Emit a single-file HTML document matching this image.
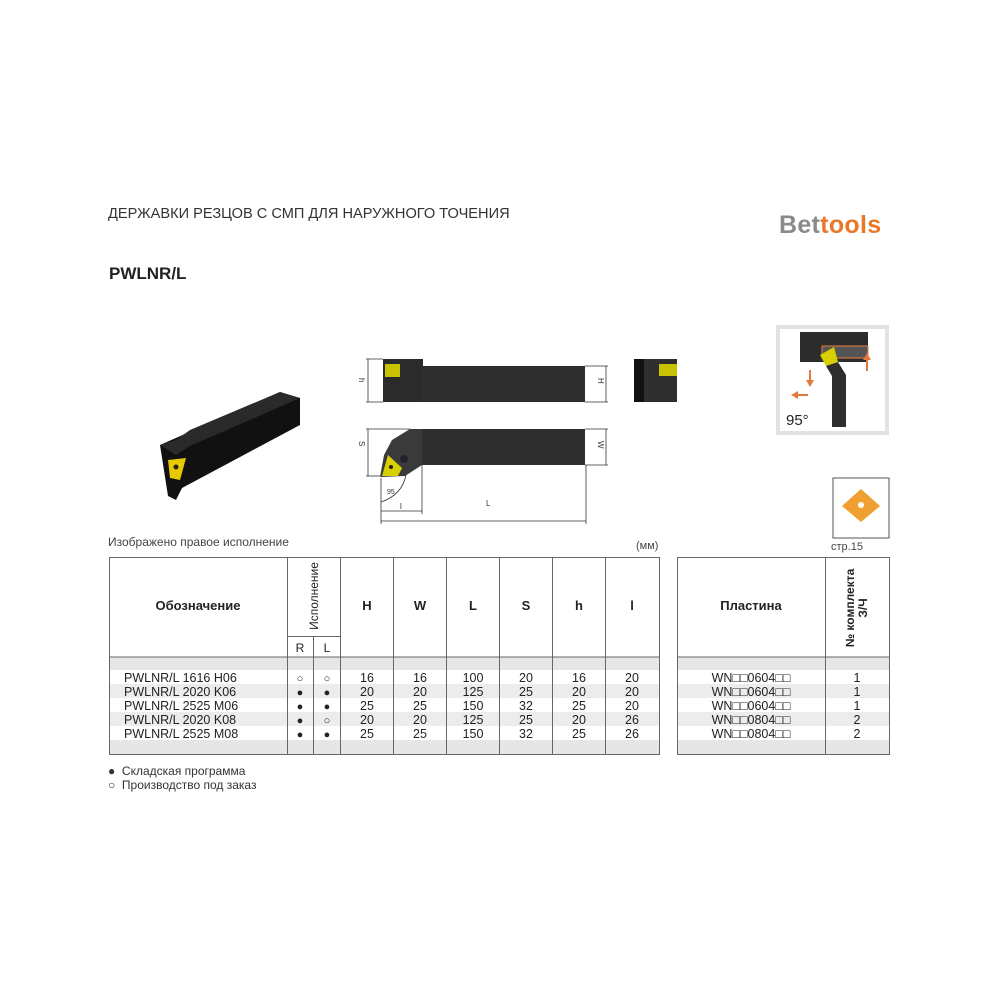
<!DOCTYPE html>
<html><head><meta charset="utf-8"><style>
body{margin:0;width:1000px;height:1000px;background:#fff;position:relative;overflow:hidden;font-family:"Liberation Sans","DejaVu Sans",sans-serif;color:#222}
.a{position:absolute;white-space:nowrap}
</style></head><body>
<div class="a" style="left:108px;top:206px;font-size:14.6px;color:#333">ДЕРЖАВКИ РЕЗЦОВ С СМП ДЛЯ НАРУЖНОГО ТОЧЕНИЯ</div>
<div class="a" style="left:779px;top:211px;font-size:25px;font-weight:bold;letter-spacing:0.3px"><span style="color:#8a8a8a">Bet</span><span style="color:#e8782a">tools</span></div>
<div class="a" style="left:109px;top:264px;font-size:17px;font-weight:bold;color:#222">PWLNR/L</div>
<div class="a" style="left:108px;top:535px;font-size:12px;color:#444">Изображено правое исполнение</div>
<div class="a" style="left:636px;top:540px;font-size:11px;color:#444">(мм)</div>
<div class="a" style="left:831px;top:541px;font-size:11px;color:#444">стр.15</div>
<div class="a" style="left:108px;top:764px;font-size:12px;color:#333">●&nbsp; Складская программа</div>
<div class="a" style="left:108px;top:778px;font-size:12px;color:#333">○&nbsp; Производство под заказ</div>

<svg class="a" style="left:0;top:0" width="1000" height="1000" xmlns="http://www.w3.org/2000/svg">
<!-- 3D tool -->
<polygon points="160,445 280,392 300,398 300,425 182,488 176,500 168,496" fill="#111"/>
<polygon points="160,445 176,440 190,430 280,392 300,398 190,446 176,455" fill="#2a2a2a"/>
<polygon points="168,460 186,458 180,480 170,478" fill="#e8c800"/>
<circle cx="176" cy="467" r="2.5" fill="#222"/>
<!-- top view -->
<g stroke="#333" stroke-width="0.8" fill="none">
<line x1="366" y1="359" x2="383" y2="359"/><line x1="366" y1="402" x2="383" y2="402"/><line x1="368" y1="359" x2="368" y2="402"/>
<line x1="585" y1="366" x2="608" y2="366"/><line x1="585" y1="402" x2="608" y2="402"/><line x1="606" y1="366" x2="606" y2="402"/>
<line x1="585" y1="429" x2="608" y2="429"/><line x1="585" y1="465" x2="608" y2="465"/><line x1="606" y1="429" x2="606" y2="465"/>
<line x1="366" y1="429" x2="410" y2="429"/><line x1="366" y1="476" x2="380" y2="476"/><line x1="368" y1="429" x2="368" y2="476"/>
<line x1="381" y1="478" x2="381" y2="524"/><line x1="422" y1="465" x2="422" y2="514"/><line x1="586" y1="465" x2="586" y2="524"/>
<line x1="381" y1="511" x2="422" y2="511"/><line x1="381" y1="521" x2="586" y2="521"/>
<path d="M381,502 Q402,495 406,475"/>
</g>
<g font-size="8" fill="#333" font-family="Liberation Sans,sans-serif">
<text x="359" y="384" transform="rotate(90 362 381)">h</text>
<text x="598" y="384" transform="rotate(90 601 381)">H</text>
<text x="598" y="447" transform="rotate(90 601 444)">W</text>
<text x="359" y="447" transform="rotate(90 362 444)">S</text>
<text x="400" y="509">l</text><text x="486" y="506">L</text>
<text x="387" y="494" font-size="7">95</text>
</g>
<rect x="383" y="359" width="40" height="43" fill="#2b2b2b"/>
<rect x="422" y="366" width="163" height="36" fill="#2e2e2e"/>
<rect x="385" y="364" width="15" height="13" fill="#c9c200"/>
<rect x="634" y="359" width="43" height="43" fill="#2e2e2e"/><rect x="634" y="359" width="10" height="43" fill="#111"/>
<rect x="659" y="364" width="18" height="12" fill="#c9c200"/>
<!-- bottom view -->
<rect x="422" y="429" width="163" height="36" fill="#2e2e2e"/>
<polygon points="410,429 422,429 422,465 405,476 380,477 384,455 392,440" fill="#3a3a3a"/>
<polygon points="382,476 388,455 402,468 398,476" fill="#d8cf00"/>
<circle cx="391" cy="467" r="2" fill="#222"/>
<circle cx="404" cy="459" r="4" fill="#223"/>
<!-- inset -->
<rect x="776" y="325" width="113" height="110" fill="#e2e2e2"/>
<rect x="780" y="329" width="105" height="102" fill="#fff"/>
<rect x="800" y="332" width="68" height="30" fill="#2c2c2c"/>
<rect x="822" y="346" width="46" height="12" fill="#555" stroke="#e8803a" stroke-width="1"/>
<polygon points="820,355 834,347 838,362 826,366" fill="#d8cf00"/>
<polygon points="826,366 838,362 846,375 846,427 832,427 832,376" fill="#2e2e2e"/>
<g fill="#e07840"><rect x="866" y="357" width="2" height="14"/><polygon points="863,360 871,360 867,353"/>
<rect x="809" y="370" width="2" height="12"/><polygon points="806,380 814,380 810,387"/>
<rect x="796" y="394" width="12" height="2"/><polygon points="798,391 798,399 791,395"/></g>
<text x="786" y="425" font-size="15" fill="#222" font-family="Liberation Sans,sans-serif">95°</text>
<!-- insert -->
<rect x="833" y="478" width="56" height="60" fill="#fff" stroke="#555" stroke-width="1"/>
<polygon points="861,489 880,506 861,522 842,506" fill="#f0a030"/>
<circle cx="861" cy="505" r="3" fill="#fff"/>
<!-- tables -->
<rect x="109" y="657" width="550" height="13" fill="#e6e6e6"/>
<rect x="109" y="684" width="550" height="14" fill="#ececec"/>
<rect x="109" y="712" width="550" height="14" fill="#ececec"/>
<rect x="109" y="740" width="550" height="14" fill="#e6e6e6"/>
<rect x="677" y="657" width="212" height="13" fill="#e6e6e6"/>
<rect x="677" y="684" width="212" height="14" fill="#ececec"/>
<rect x="677" y="712" width="212" height="14" fill="#ececec"/>
<rect x="677" y="740" width="212" height="14" fill="#e6e6e6"/>
<g stroke="#666" stroke-width="1" fill="none">
<rect x="109.5" y="557.5" width="550" height="197"/>
<line x1="109" y1="657" x2="659" y2="657"/>
<line x1="287.5" y1="557" x2="287.5" y2="755"/><line x1="313.5" y1="636" x2="313.5" y2="755"/>
<line x1="287" y1="636.5" x2="340" y2="636.5"/>
<line x1="340.5" y1="557" x2="340.5" y2="755"/><line x1="393.5" y1="557" x2="393.5" y2="755"/>
<line x1="446.5" y1="557" x2="446.5" y2="755"/><line x1="499.5" y1="557" x2="499.5" y2="755"/>
<line x1="552.5" y1="557" x2="552.5" y2="755"/><line x1="605.5" y1="557" x2="605.5" y2="755"/>
<rect x="677.5" y="557.5" width="212" height="197"/>
<line x1="677" y1="657" x2="889" y2="657"/><line x1="825.5" y1="557" x2="825.5" y2="755"/>
</g>
<g font-family="Liberation Sans,sans-serif" fill="#222">
<g font-size="13" font-weight="bold" text-anchor="middle">
<text x="198" y="610">Обозначение</text>
<text x="367" y="610">H</text><text x="420" y="610">W</text><text x="473" y="610">L</text>
<text x="526" y="610">S</text><text x="579" y="610">h</text><text x="632" y="610">l</text>
<text x="751" y="610">Пластина</text>
<text x="300" y="652" font-size="12" font-weight="normal">R</text><text x="327" y="652" font-size="12" font-weight="normal">L</text>
</g>
<text x="0" y="0" font-size="12" text-anchor="middle" transform="translate(318,596) rotate(-90)">Исполнение</text>
<text x="0" y="0" font-size="12" font-weight="bold" text-anchor="middle" transform="translate(854,608) rotate(-90)">№ комплекта</text>
<text x="0" y="0" font-size="12" font-weight="bold" text-anchor="middle" transform="translate(867,608) rotate(-90)">З/Ч</text>
<g font-size="12.5">
<text x="124" y="682">PWLNR/L 1616 H06</text><text x="124" y="696">PWLNR/L 2020 K06</text>
<text x="124" y="710">PWLNR/L 2525 M06</text><text x="124" y="724">PWLNR/L 2020 K08</text>
<text x="124" y="738">PWLNR/L 2525 M08</text>
</g>
<g font-size="11" text-anchor="middle">
<text x="300" y="682">○</text><text x="327" y="682">○</text>
<text x="300" y="696">●</text><text x="327" y="696">●</text>
<text x="300" y="710">●</text><text x="327" y="710">●</text>
<text x="300" y="724">●</text><text x="327" y="724">○</text>
<text x="300" y="738">●</text><text x="327" y="738">●</text>
</g>
<g font-size="12.5" text-anchor="middle">
<text x="367" y="682">16</text><text x="420" y="682">16</text><text x="473" y="682">100</text><text x="526" y="682">20</text><text x="579" y="682">16</text><text x="632" y="682">20</text>
<text x="367" y="696">20</text><text x="420" y="696">20</text><text x="473" y="696">125</text><text x="526" y="696">25</text><text x="579" y="696">20</text><text x="632" y="696">20</text>
<text x="367" y="710">25</text><text x="420" y="710">25</text><text x="473" y="710">150</text><text x="526" y="710">32</text><text x="579" y="710">25</text><text x="632" y="710">20</text>
<text x="367" y="724">20</text><text x="420" y="724">20</text><text x="473" y="724">125</text><text x="526" y="724">25</text><text x="579" y="724">20</text><text x="632" y="724">26</text>
<text x="367" y="738">25</text><text x="420" y="738">25</text><text x="473" y="738">150</text><text x="526" y="738">32</text><text x="579" y="738">25</text><text x="632" y="738">26</text>
<text x="751" y="682">WN□□0604□□</text><text x="857" y="682">1</text>
<text x="751" y="696">WN□□0604□□</text><text x="857" y="696">1</text>
<text x="751" y="710">WN□□0604□□</text><text x="857" y="710">1</text>
<text x="751" y="724">WN□□0804□□</text><text x="857" y="724">2</text>
<text x="751" y="738">WN□□0804□□</text><text x="857" y="738">2</text>
</g>
</g>
</svg>
</body></html>
